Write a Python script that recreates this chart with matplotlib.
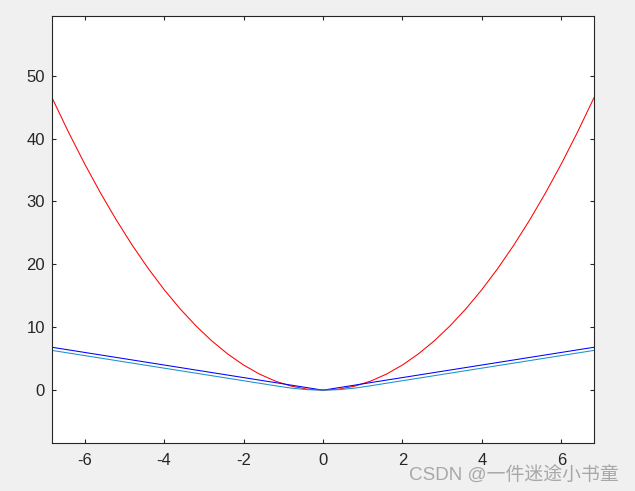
import matplotlib.pyplot as plt

x = [-6.82, -6.4, -6.0, -5.6, -5.2, -4.8, -4.4, -4.0, -3.6, -3.2, -2.8, -2.4,
     -2.0, -1.6, -1.2, -0.8, -0.4, 0.0, 0.4, 0.8, 1.2, 1.6, 2.0, 2.4, 2.8,
     3.2, 3.6, 4.0, 4.4, 4.8, 5.2, 5.6, 6.0, 6.4, 6.82]

# red curve (square loss)
y_red = [46.5, 40.96, 36.0, 31.36, 27.04, 23.04, 19.36, 16.0, 12.96, 10.24,
         7.84, 5.76, 4.0, 2.56, 1.44, 0.64, 0.16, 0.0, 0.16, 0.64, 1.44, 2.56,
         4.0, 5.76, 7.84, 10.24, 12.96, 16.0, 19.36, 23.04, 27.04, 31.36, 36.0,
         40.96, 46.5]

# blue line (absolute loss)
y_blue = [6.82, 6.4, 6.0, 5.6, 5.2, 4.8, 4.4, 4.0, 3.6, 3.2, 2.8, 2.4, 2.0,
          1.6, 1.2, 0.8, 0.4, 0.0, 0.4, 0.8, 1.2, 1.6, 2.0, 2.4, 2.8, 3.2, 3.6,
          4.0, 4.4, 4.8, 5.2, 5.6, 6.0, 6.4, 6.82]

# light blue line (smooth L1)
y_cyan = [6.32, 5.9, 5.5, 5.1, 4.7, 4.3, 3.9, 3.5, 3.1, 2.7, 2.3, 1.9, 1.5,
          1.1, 0.7, 0.32, 0.08, 0.0, 0.08, 0.32, 0.7, 1.1, 1.5, 1.9, 2.3, 2.7,
          3.1, 3.5, 3.9, 4.3, 4.7, 5.1, 5.5, 5.9, 6.32]

xticks = [-6, -4, -2, 0, 2, 4, 6]
yticks = [0, 10, 20, 30, 40, 50]

plt.rcParams['font.family'] = ['Liberation Sans', 'DejaVu Sans']
plt.rcParams['axes.unicode_minus'] = False

fig = plt.figure(figsize=(6.35, 4.91), dpi=100, facecolor='#f0f0f0')
ax = fig.add_axes([0.0819, 0.0978, 0.8535, 0.8697])

ax.plot(x, y_red, color='#ff0000', lw=0.75)
ax.plot(x, y_blue, color='#0000ff', lw=0.75)
ax.plot(x, y_cyan, color='#1a90d0', lw=0.75)

ax.set_xlim(-6.82, 6.82)
ax.set_ylim(-8.4, 59.5)
ax.set_xticks(xticks)
ax.set_yticks(yticks)

for s in ax.spines.values():
    s.set_color('#262626')
    s.set_linewidth(0.8)
ax.tick_params(direction='in', length=3, width=0.8, color='#262626',
               labelsize=12, labelcolor='#262626',
               top=True, right=True)
ax.tick_params(axis='x', pad=7)
ax.tick_params(axis='y', pad=5)

# watermark
fig.text(409 / 635, 1 - 480 / 491, 'CSDN @一件迷途小书童', color='#a8a8a8',
         fontsize=13.6, ha='left', va='baseline',
         family=['Liberation Sans', 'Noto Sans CJK SC'])

fig.savefig('out.png', dpi=100, facecolor=fig.get_facecolor())
